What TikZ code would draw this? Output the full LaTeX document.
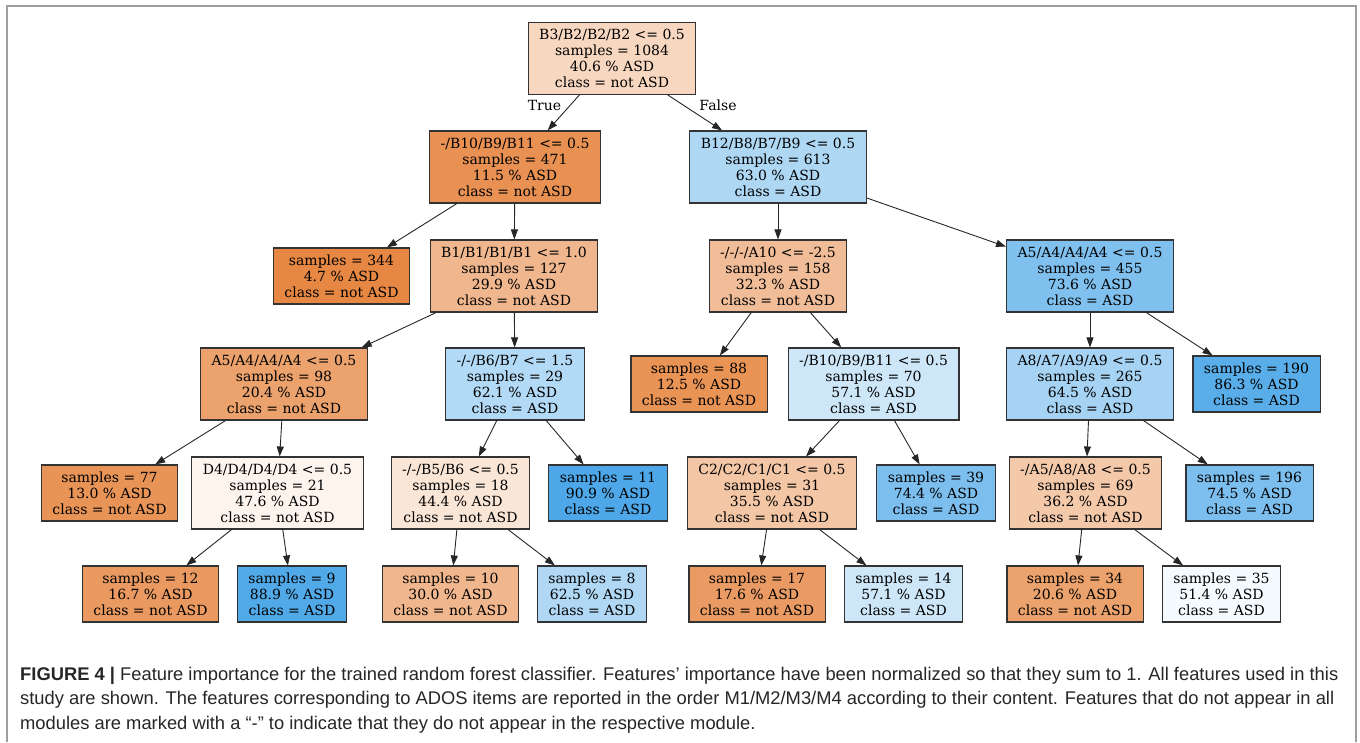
\documentclass[tikz,border=0pt]{standalone}
\usepackage{fontspec}
\usetikzlibrary{arrows.meta}
\newfontfamily\treefont{DejaVu Serif}
\setsansfont{Liberation Sans}
\definecolor{notasd}{RGB}{229,129,57}
\definecolor{asd}{RGB}{57,157,229}
\tikzset{
    splitbox/.style={draw=black!80, line width=1.1pt, minimum height=72pt,
        inner xsep=11pt, inner ysep=3pt, align=center,
        font={\treefont\fontsize{14}{16}\selectfont}},
    leafbox/.style={splitbox, minimum height=56pt},
    edgelabel/.style={inner sep=0pt, font={\treefont\fontsize{14}{16}\selectfont}},
    branch/.style={-{Triangle[length=10pt,width=7pt]}, line width=0.9pt, black!85},
    capline/.style={anchor=base west, inner sep=0pt, text=black!85,
        font={\sffamily\fontsize{18.35}{24.5}\selectfont}},
}
\begin{document}
\begin{tikzpicture}[x=1pt, y=-1pt]
    \useasboundingbox (0,0) rectangle (1360,742);
    \draw[gray!75, line width=1.5pt] (7,742) -- (7,6) -- (1356,6) -- (1356,742);

    % depth 0 and 1
    \node[splitbox, fill=notasd!32] (root) at (612,58.5) {B3/B2/B2/B2 <= 0.5\\samples = 1084\\40.6 \% ASD\\class = not ASD};
    \node[splitbox, fill=notasd!87] (nB10a) at (515,167) {-/B10/B9/B11 <= 0.5\\samples = 471\\11.5 \% ASD\\class = not ASD};
    \node[splitbox, fill=asd!41] (nB12) at (778,167) {B12/B8/B7/B9 <= 0.5\\samples = 613\\63.0 \% ASD\\class = ASD};
    \node[edgelabel] (lblTrue) at (544.5,105) {True};
    \node[edgelabel] (lblFalse) at (718,105) {False};

    % depth 2
    \node[leafbox, fill=notasd!95] (leafA) at (341.5,276) {samples = 344\\4.7 \% ASD\\class = not ASD};
    \node[splitbox, fill=notasd!57] (nB1) at (514,276) {B1/B1/B1/B1 <= 1.0\\samples = 127\\29.9 \% ASD\\class = not ASD};
    \node[splitbox, fill=notasd!52] (nA10) at (778,276) {-/-/-/A10 <= -2.5\\samples = 158\\32.3 \% ASD\\class = not ASD};
    \node[splitbox, fill=asd!64] (nA5r) at (1090,276) {A5/A4/A4/A4 <= 0.5\\samples = 455\\73.6 \% ASD\\class = ASD};

    % depth 3
    \node[splitbox, fill=notasd!74] (nA5l) at (284,384) {A5/A4/A4/A4 <= 0.5\\samples = 98\\20.4 \% ASD\\class = not ASD};
    \node[splitbox, fill=asd!39] (nB6) at (515,384) {-/-/B6/B7 <= 1.5\\samples = 29\\62.1 \% ASD\\class = ASD};
    \node[leafbox, fill=notasd!86] (leafB) at (699,384) {samples = 88\\12.5 \% ASD\\class = not ASD};
    \node[splitbox, fill=asd!25] (nB10b) at (873.5,384) {-/B10/B9/B11 <= 0.5\\samples = 70\\57.1 \% ASD\\class = ASD};
    \node[splitbox, fill=asd!45] (nA8) at (1090,384) {A8/A7/A9/A9 <= 0.5\\samples = 265\\64.5 \% ASD\\class = ASD};
    \node[leafbox, fill=asd!84] (leafC) at (1256.5,384) {samples = 190\\86.3 \% ASD\\class = ASD};

    % depth 4
    \node[leafbox, fill=notasd!85] (leafD) at (109.5,493) {samples = 77\\13.0 \% ASD\\class = not ASD};
    \node[splitbox, fill=notasd!9] (nD4) at (277.5,493) {D4/D4/D4/D4 <= 0.5\\samples = 21\\47.6 \% ASD\\class = not ASD};
    \node[splitbox, fill=notasd!20] (nB5) at (460.5,493) {-/-/B5/B6 <= 0.5\\samples = 18\\44.4 \% ASD\\class = not ASD};
    \node[leafbox, fill=asd!90] (leafE) at (608,493) {samples = 11\\90.9 \% ASD\\class = ASD};
    \node[splitbox, fill=notasd!45] (nC2) at (772,493) {C2/C2/C1/C1 <= 0.5\\samples = 31\\35.5 \% ASD\\class = not ASD};
    \node[leafbox, fill=asd!66] (leafF) at (936,493) {samples = 39\\74.4 \% ASD\\class = ASD};
    \node[splitbox, fill=notasd!43] (nA5b) at (1085.5,493) {-/A5/A8/A8 <= 0.5\\samples = 69\\36.2 \% ASD\\class = not ASD};
    \node[leafbox, fill=asd!66] (leafG) at (1249.5,493) {samples = 196\\74.5 \% ASD\\class = ASD};

    % depth 5
    \node[leafbox, fill=notasd!80] (leafH) at (150.5,594) {samples = 12\\16.7 \% ASD\\class = not ASD};
    \node[leafbox, fill=asd!88] (leafI) at (292,594) {samples = 9\\88.9 \% ASD\\class = ASD};
    \node[leafbox, fill=notasd!57] (leafJ) at (450.5,594) {samples = 10\\30.0 \% ASD\\class = not ASD};
    \node[leafbox, fill=asd!40] (leafK) at (592,594) {samples = 8\\62.5 \% ASD\\class = ASD};
    \node[leafbox, fill=notasd!79] (leafL) at (757,594) {samples = 17\\17.6 \% ASD\\class = not ASD};
    \node[leafbox, fill=asd!25] (leafM) at (903.5,594) {samples = 14\\57.1 \% ASD\\class = ASD};
    \node[leafbox, fill=notasd!74] (leafN) at (1075,594) {samples = 34\\20.6 \% ASD\\class = not ASD};
    \node[leafbox, fill=asd!5] (leafO) at (1221.5,594) {samples = 35\\51.4 \% ASD\\class = ASD};

    \draw[branch] (root) -- (nB10a);
    \draw[branch] (root) -- (nB12);
    \draw[branch] (nB10a) -- (leafA);
    \draw[branch] (nB10a) -- (nB1);
    \draw[branch] (nB12) -- (nA10);
    \draw[branch] (nB12) -- (nA5r);
    \draw[branch] (nB1) -- (nA5l);
    \draw[branch] (nB1) -- (nB6);
    \draw[branch] (nA10) -- (leafB);
    \draw[branch] (nA10) -- (nB10b);
    \draw[branch] (nA5r) -- (nA8);
    \draw[branch] (nA5r) -- (leafC);
    \draw[branch] (nA5l) -- (leafD);
    \draw[branch] (nA5l) -- (nD4);
    \draw[branch] (nB6) -- (nB5);
    \draw[branch] (nB6) -- (leafE);
    \draw[branch] (nB10b) -- (nC2);
    \draw[branch] (nB10b) -- (leafF);
    \draw[branch] (nA8) -- (nA5b);
    \draw[branch] (nA8) -- (leafG);
    \draw[branch] (nD4) -- (leafH);
    \draw[branch] (nD4) -- (leafI);
    \draw[branch] (nB5) -- (leafJ);
    \draw[branch] (nB5) -- (leafK);
    \draw[branch] (nC2) -- (leafL);
    \draw[branch] (nC2) -- (leafM);
    \draw[branch] (nA5b) -- (leafN);
    \draw[branch] (nA5b) -- (leafO);

    % caption
    \node[capline] (cap1) at (20,680) {\textbf{FIGURE 4 |} Feature importance for the trained random forest classifier. Features’ importance have been normalized so that they sum to 1. All features used in this};
    \node[capline] (cap2) at (20,704.5) {study are shown. The features corresponding to ADOS items are reported in the order M1/M2/M3/M4 according to their content. Features that do not appear in all};
    \node[capline] (cap3) at (20,729) {modules are marked with a “-” to indicate that they do not appear in the respective module.};
\end{tikzpicture}
\end{document}
